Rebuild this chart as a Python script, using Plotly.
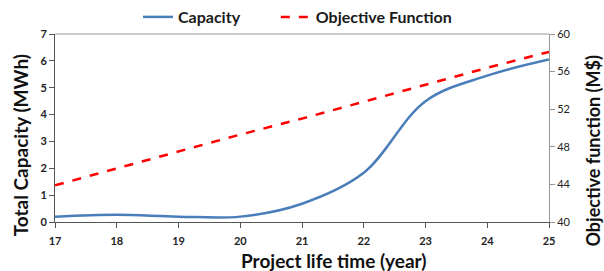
import plotly.graph_objects as go

years = [17, 18, 19, 20, 21, 22, 23, 24, 25]
capacity = [0.2, 0.27, 0.2, 0.2, 0.68, 1.83, 4.5, 5.45, 6.05]
objective = [43.9, 45.7, 47.5, 49.3, 51.0, 52.8, 54.6, 56.4, 58.1]
left_ticks = [0, 1, 2, 3, 4, 5, 6, 7]
right_ticks = [40, 44, 48, 52, 56, 60]
x_ticks = [17, 18, 19, 20, 21, 22, 23, 24, 25]

FONT = "Lato"
fig = go.Figure()
fig.add_trace(go.Scatter(x=years, y=capacity, name="Capacity", mode="lines",
                         line=dict(color="#4a7ebb", width=2.5, shape="spline", smoothing=1.0),
                         yaxis="y", legend="legend"))
fig.add_trace(go.Scatter(x=years, y=objective, name="Objective Function", mode="lines",
                         line=dict(color="#ff0000", width=2.5, dash="dash"),
                         yaxis="y2", legend="legend2"))

title_font = dict(family=FONT, color="#111111", weight="bold")
leg_font = dict(size=16, family=FONT, color="#1a1a1a", weight="bold")

fig.update_layout(
    width=604, height=271,
    margin=dict(l=55, r=55, t=34, b=49, autoexpand=False),
    plot_bgcolor="white", paper_bgcolor="white",
    font=dict(family=FONT, color="#1a1a1a"),
    showlegend=True,
    legend=dict(orientation="h", x=0.168, xanchor="left", y=1.0, yanchor="bottom",
                font=leg_font, itemwidth=30, bgcolor="rgba(0,0,0,0)"),
    legend2=dict(orientation="h", x=0.447, xanchor="left", y=1.0, yanchor="bottom",
                 font=leg_font, itemwidth=30, bgcolor="rgba(0,0,0,0)"),
    xaxis=dict(range=[17, 25], tickvals=x_ticks, showgrid=False, zeroline=False,
               showline=True, linecolor="#555555", linewidth=1, mirror=False,
               ticks="outside", ticklen=5, tickcolor="#555555", ticklabelstandoff=4,
               tickfont=dict(size=11, family=FONT, color="#222222", weight="bold")),
    yaxis=dict(range=[0, 7], tickvals=left_ticks, showgrid=False, zeroline=False,
               showline=True, linecolor="#555555", linewidth=1,
               ticks="outside", ticklen=5, tickcolor="#555555",
               tickfont=dict(size=11, family=FONT, color="#222222", weight="bold")),
    yaxis2=dict(range=[40, 60], tickvals=right_ticks, overlaying="y", side="right",
                showgrid=False, zeroline=False,
                showline=True, linecolor="#999999", linewidth=1,
                ticks="outside", ticklen=5, tickcolor="#999999",
                tickfont=dict(size=11, family=FONT, color="#222222")),
    shapes=[dict(type="line", xref="paper", yref="paper", x0=0, x1=1, y0=1, y1=1,
                 line=dict(color="#999999", width=1))],
    annotations=[
        dict(text="Project life time (year)", xref="paper", yref="paper",
             x=0.563, y=-0.205, xanchor="center", yanchor="middle", showarrow=False,
             font=dict(size=19, **title_font)),
        dict(text="Total Capacity (MWh)", xref="paper", yref="paper",
             x=-0.07, y=0.41, xanchor="center", yanchor="middle", showarrow=False,
             textangle=-90, font=dict(size=19, **title_font)),
        dict(text="Objective function (M$)", xref="paper", yref="paper",
             x=1.089, y=0.38, xanchor="center", yanchor="middle", showarrow=False,
             textangle=-90, font=dict(size=18, **title_font)),
    ],
)

fig.write_html("out.html", config={"displayModeBar": False},
               post_script="document.body.style.margin='0';document.body.style.padding='0';")
